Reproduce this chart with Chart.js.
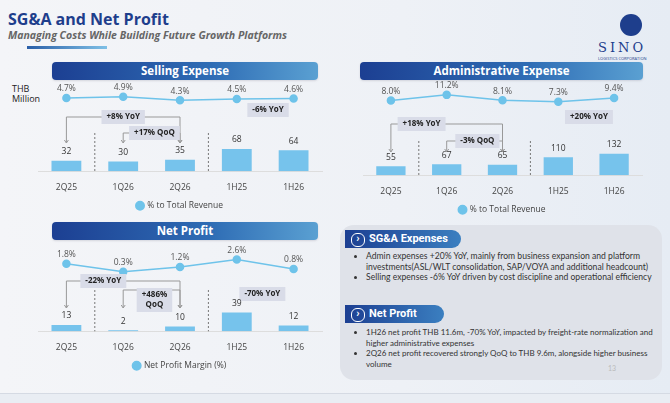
<!DOCTYPE html>
<html><head><meta charset="utf-8">
<script src="https://cdn.jsdelivr.net/npm/chart.js@4"></script>
<style>
body{margin:0;width:670px;height:403px;overflow:hidden;font-family:"Open Sans",sans-serif;background:linear-gradient(90deg,#f4f5f8,#eef1f6 60%,#e6ecf4);position:relative}
.abs{position:absolute}
.hdr{position:absolute;height:18px;border-radius:4px;color:#fff;font:bold 11.5px "Open Sans";text-align:center;line-height:18px;background:linear-gradient(90deg,#1c3f92,#2f6db5 60%,#5aa0d2);box-shadow:0 1px 2px #8894}
.box{position:absolute;left:340px;top:225px;width:322px;height:155px;border-radius:14px;background:#dfe2e9}
.pill{position:absolute;height:18px;border-radius:0 9px 9px 0;color:#fff;font:bold 11px Roboto;line-height:18px;padding-left:24px;background:linear-gradient(90deg,#1c3f92,#3b7fc0)}
.pill:before{content:"›";position:absolute;left:6px;top:3px;width:12px;height:12px;border-radius:6px;border:1px solid #fff;line-height:10px;text-align:center;font-size:11px}
ul{position:absolute;margin:0;padding-left:14px;font:8.6px Lato;color:#333;line-height:10.5px}
</style></head><body>
<div class="abs" style="left:8px;top:8px;font:bold 16px 'Open Sans';color:#1e3e8c">SG&amp;A and Net Profit</div>
<div class="abs" style="left:8px;top:28px;font:italic bold 10.5px 'Open Sans';color:#666">Managing Costs While Building Future Growth Platforms</div>
<div class="abs" style="left:27px;top:46px;width:80px;height:3px;background:linear-gradient(90deg,#2a5fa8,#7fc0e6)"></div>
<div class="abs" style="left:620px;top:14px;width:22px;height:22px;border-radius:11px;background:#1e3e8c"></div>
<div class="abs" style="left:598px;top:40px;font:13px 'DejaVu Serif';color:#1e3e8c;letter-spacing:3px">SINO</div>
<div class="abs" style="left:598px;top:56px;font:4px 'Open Sans';color:#1e3e8c">LOGISTICS CORPORATION</div>
<div class="hdr" style="left:52px;top:62px;width:266px">Selling Expense</div>
<div class="hdr" style="left:360px;top:62px;width:283px">Administrative Expense</div>
<div class="hdr" style="left:52px;top:222px;width:266px">Net Profit</div>
<div class="abs" style="left:12px;top:84px;font:9px 'Open Sans';color:#222;line-height:10px">THB<br>Million</div>
<canvas id="c1" class="abs" style="left:20px;top:82px;width:310px;height:138px"></canvas>
<canvas id="c2" class="abs" style="left:345px;top:80px;width:305px;height:144px"></canvas>
<canvas id="c3" class="abs" style="left:20px;top:244px;width:310px;height:136px"></canvas>
<div class="box"></div>
<div class="pill" style="left:345px;top:230px;width:92px">SG&amp;A Expenses</div>
<ul style="left:352px;top:251px;width:300px"><li>Admin expenses +20% YoY, mainly from business expansion and platform investments(ASL/WLT consolidation, SAP/VOYA and additional headcount)</li><li>Selling expenses -6% YoY driven by cost discipline and operational efficiency</li></ul>
<div class="pill" style="left:345px;top:305px;width:75px">Net Profit</div>
<ul style="left:352px;top:327px;width:300px;font-size:8px"><li>1H26 net profit THB 11.6m, -70% YoY, impacted by freight-rate normalization and higher administrative expenses</li><li>2Q26 net profit recovered strongly QoQ to THB 9.6m, alongside higher business volume</li></ul>
<div class="abs" style="left:608px;top:364px;font:7px Lato;color:#bbb">13</div>
<div class="abs" style="left:0;top:393px;width:670px;height:10px;background:#e9edf3;border-top:1px solid #d5dae3"></div>
<script>
const periods = ["2Q25", "1Q26", "2Q26", "1H25", "1H26"];
const sellingValues = [32, 30, 35, 68, 64];
const sellingPct = [4.7, 4.9, 4.3, 4.5, 4.6];
const adminValues = [55, 67, 65, 110, 132];
const adminPct = [8.0, 11.2, 8.1, 7.3, 9.4];
const profitValues = [13, 2, 10, 39, 12];
const profitPct = [1.8, 0.3, 1.2, 2.6, 0.8];

// annotation: brackets (from,to index, y px), boxes (x index pos, y px, text)
const notesPlugin = {
  id: "notes",
  afterDatasetsDraw(chart, args, opts) {
    const ctx = chart.ctx, x = chart.scales.x, yb = chart.scales.yb, yl = chart.scales.yl;
    ctx.save();
    // dashed separators
    ctx.strokeStyle = "#777"; ctx.setLineDash([2, 2]); ctx.lineWidth = 1;
    (opts.dashes || []).forEach(d => {
      const px = (x.getPixelForValue(d[0]) + x.getPixelForValue(d[0] + 1)) / 2;
      ctx.beginPath(); ctx.moveTo(px, d[1]); ctx.lineTo(px, yb.getPixelForValue(0)); ctx.stroke();
    });
    ctx.setLineDash([]);
    ctx.strokeStyle = "#999";
    (opts.brackets || []).forEach(b => {
      const x1 = x.getPixelForValue(b[0]), x2 = x.getPixelForValue(b[1]), y = b[2], y2 = b[3];
      ctx.beginPath(); ctx.moveTo(x1, y2); ctx.lineTo(x1, y); ctx.lineTo(x2, y); ctx.lineTo(x2, y2); ctx.stroke();
      [x1, x2].forEach(px => { ctx.beginPath(); ctx.moveTo(px - 2, y2 - 3); ctx.lineTo(px, y2); ctx.lineTo(px + 2, y2 - 3); ctx.stroke(); });
    });
    ctx.textAlign = "center"; ctx.textBaseline = "middle";
    (opts.boxes || []).forEach(b => {
      const px = x.getPixelForValue(b[0]);
      const lines = b[2].split("\n");
      ctx.font = "bold 8px 'Open Sans'";
      const w = Math.max(...lines.map(l => ctx.measureText(l).width)) + 10, h = lines.length * 10 + 4;
      ctx.fillStyle = "#d9dce8"; ctx.fillRect(px - w / 2, b[1] - h / 2, w, h);
      ctx.fillStyle = "#222";
      lines.forEach((l, i) => ctx.fillText(l, px, b[1] - h / 2 + 7 + i * 10));
    });
    // values
    ctx.font = "8.5px 'Open Sans'"; ctx.fillStyle = "#333";
    chart.data.datasets[1].data.forEach((v, i) => ctx.fillText(v, x.getPixelForValue(i), yb.getPixelForValue(v) - 9));
    ctx.fillStyle = "#555";
    chart.data.datasets[0].data.forEach((v, i) => ctx.fillText(v.toFixed(1) + "%", x.getPixelForValue(i), yl.getPixelForValue(v) - 9));
    ctx.restore();
  }
};

function build(id, bars, pct, legendText, bmax, lmin, lmax, notes, padTop) {
  new Chart(document.getElementById(id), {
    type: "bar",
    data: {
      labels: periods,
      datasets: [
        { type: "line", label: legendText, data: pct, yAxisID: "yl", borderColor: "#6ec3ea", backgroundColor: "#6ec3ea", pointRadius: 3.5, borderWidth: 1.5 },
        { label: "bars", data: bars, yAxisID: "yb", backgroundColor: "#76c3ec", barPercentage: 0.7, categoryPercentage: 0.75 }
      ]
    },
    options: {
      responsive: false, animation: false,
      layout: { padding: { left: 18, right: 8, top: padTop || 4 } },
      plugins: {
        tooltip: { enabled: false },
        legend: { position: "bottom", labels: { filter: it => it.datasetIndex === 0, usePointStyle: true, pointStyle: "circle", boxWidth: 6, boxHeight: 6, color: "#444", font: { size: 8.5, family: "Open Sans" }, padding: 6 } },
        notes: notes
      },
      scales: {
        x: { grid: { display: false }, border: { color: "#ddd" }, ticks: { color: "#444", font: { size: 8.5, family: "Open Sans" } } },
        yb: { display: false, min: 0, max: bmax },
        yl: { display: false, min: lmin, max: lmax }
      }
    },
    plugins: [notesPlugin]
  });
}

build("c1", sellingValues, sellingPct, "% to Total Revenue", 255, -8, 6.5, {
  brackets: [[0, 2, 35, 61], [1, 2, 51, 61]],
  boxes: [[1, 35, "+8% YoY"], [1.55, 51, "+17% QoQ"], [3.55, 28, "-6% YoY"]],
  dashes: [[0, 51], [2, 51]]
});
build("c2", adminValues, adminPct, "% to Total Revenue", 520, -35, 14, {
  brackets: [[0, 2, 44, 72], [1, 2, 61, 72]],
  boxes: [[0.55, 44, "+18% YoY"], [1.55, 61, "-3% QoQ"], [3.55, 37, "+20% YoY"]],
  dashes: [[0, 61], [2, 61]]
}, 10);
build("c3", profitValues, profitPct, "Net Profit Margin (%)", 170, -11, 4.5, {
  brackets: [[0, 2, 37, 64], [1, 2, 46, 64]],
  boxes: [[0.65, 37, "-22% YoY"], [1.55, 56, "+486%\nQoQ"], [3.45, 50, "-70% YoY"]],
  dashes: [[0, 46], [2, 46]]
});
</script>
</body></html>
